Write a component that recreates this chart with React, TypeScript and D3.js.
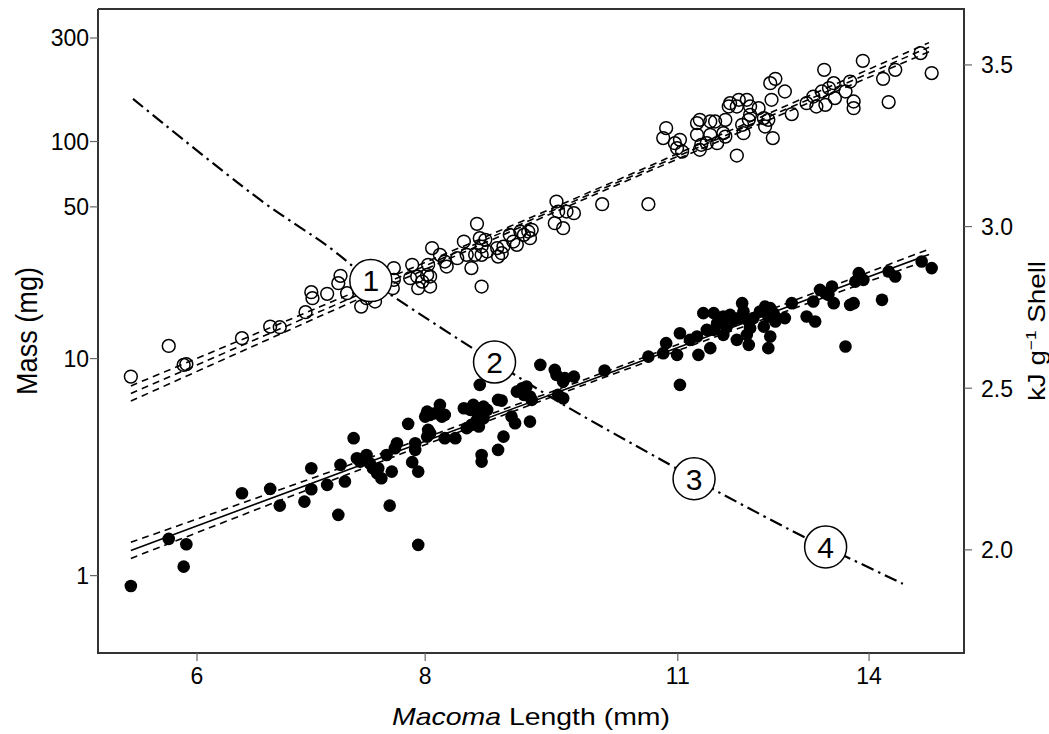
import React from "react";
import * as d3 from "d3";

// ---------- tick values ----------
const lengthTicks = [6, 8, 11, 14];
const massTicks = [1, 10, 50, 100, 300];
const energyTicks = [2.0, 2.5, 3.0, 3.5];

// ---------- open circles: [length mm, mass mg] ----------
const openPoints: [number, number][] = [
  [5.52, 8.26], [5.79, 11.44], [5.9, 9.35], [5.92, 9.42], [6.35, 12.42], [6.58, 14.04],
  [6.66, 13.95], [6.88, 16.36], [6.93, 20.23], [6.94, 18.98], [7.07, 19.87], [7.19, 24.05],
  [7.17, 22.26], [7.25, 20.01], [7.38, 17.36], [7.43, 18.98], [7.51, 18.31], [7.69, 26.11],
  [7.69, 23.05], [7.68, 21.11], [7.87, 27.03], [7.85, 23.47], [7.92, 23.87], [7.97, 22.63],
  [7.93, 21.11], [8.02, 24.3], [8.05, 21.47], [8.05, 23.87], [8.03, 27.03], [8.07, 32.28],
  [8.15, 30.06], [8.2, 27.99], [8.22, 26.55], [8.33, 29.02], [8.4, 34.61], [8.54, 41.75],
  [8.48, 26.11], [8.43, 30.06], [8.52, 30.06], [8.59, 30.06], [8.65, 31.12], [8.57, 35.88],
  [8.59, 32.82], [8.63, 35.24], [8.59, 21.47], [8.76, 32.28], [8.81, 30.6], [8.83, 32.82],
  [8.77, 29.51], [8.9, 37.15], [8.94, 34.61], [8.98, 33.42], [9.02, 38.48], [9.06, 37.15],
  [9.11, 38.48], [9.13, 35.88], [9.15, 39.18], [9.44, 52.9], [9.42, 42.07], [9.46, 47.57],
  [9.52, 39.9], [9.56, 47.57], [9.65, 46.77], [10.0, 51.47], [10.6, 51.47], [10.84, 115.3],
  [10.8, 103.7], [10.96, 98.3], [10.99, 93.2], [11.06, 89.9], [11.03, 101.8], [11.27, 121.6],
  [11.31, 125.9], [11.27, 107.4], [11.33, 96.6], [11.31, 91.6], [11.46, 123.7], [11.53, 123.7],
  [11.46, 107.4], [11.41, 98.3], [11.56, 98.3], [11.68, 125.9], [11.65, 109.3], [11.68, 105.4],
  [11.73, 145], [11.75, 150.3], [11.85, 145], [11.88, 155.7], [12.0, 155.7], [12.05, 145],
  [12.05, 132.7], [12.03, 125.9], [12.18, 142.5], [11.85, 86.2], [11.93, 119.4], [11.95, 109.3],
  [12.26, 128.2], [12.28, 117.3], [12.33, 125.9], [12.36, 185.8], [12.44, 194.5], [12.38, 155.7],
  [12.59, 170], [12.4, 103.7], [12.7, 133.8], [12.94, 150.3], [13.05, 161.2], [13.1, 145],
  [13.19, 170], [13.25, 147.6], [13.23, 214], [13.31, 176.3], [13.39, 185.8], [13.41, 158.5],
  [13.59, 170], [13.67, 189], [13.73, 152.9], [13.73, 142.5], [13.89, 235.4], [14.25, 194.5],
  [14.35, 152], [14.47, 214], [14.94, 255.5], [15.15, 206.7],
];

// ---------- filled circles: [length mm, mass mg] ----------
const filledPoints: [number, number][] = [
  [5.52, 0.896], [5.79, 1.476], [5.92, 1.395], [5.9, 1.1], [6.35, 2.397], [6.58, 2.509],
  [6.66, 2.102], [6.87, 2.193], [6.93, 2.501], [7.07, 2.618], [7.17, 1.905], [7.23, 2.712],
  [6.93, 3.126], [7.19, 3.237], [7.31, 4.298], [7.34, 3.475], [7.37, 3.352], [7.43, 3.598],
  [7.46, 3.296], [7.49, 3.126], [7.54, 3.126], [7.57, 2.811], [7.62, 3.598], [7.67, 3.015],
  [7.72, 4.075], [7.7, 3.865], [7.65, 2.102], [7.83, 5.002], [7.9, 4.075], [7.9, 3.796],
  [7.87, 3.332], [7.93, 3.015], [7.93, 1.385], [7.53, 2.964], [8.02, 5.698], [8.0, 5.404],
  [8.05, 5.503], [8.1, 5.603], [8.15, 6.116], [8.17, 5.404], [8.2, 5.503], [8.03, 4.692],
  [8.05, 4.531], [8.02, 4.37], [8.2, 4.298], [8.31, 4.298], [8.4, 5.906], [8.47, 5.801],
  [8.5, 6.116], [8.54, 5.698], [8.57, 5.906], [8.61, 6.007], [8.65, 5.801], [8.54, 5.219],
  [8.48, 4.949], [8.56, 4.861], [8.61, 5.312], [8.43, 4.78], [8.57, 7.565], [8.59, 3.598],
  [8.59, 3.352], [8.77, 6.451], [8.81, 6.403], [8.77, 3.796], [8.83, 4.37], [8.92, 5.404],
  [8.96, 5.039], [9.13, 5.125], [8.98, 7.045], [9.04, 7.304], [9.09, 7.43], [9.06, 6.803],
  [9.13, 6.682], [9.15, 6.451], [9.25, 9.354], [9.42, 8.87], [9.44, 8.412], [9.54, 8.123],
  [9.65, 8.26], [9.52, 7.834], [9.46, 6.803], [9.52, 6.569], [10.03, 8.805], [10.6, 10.21],
  [10.8, 10.59], [10.84, 11.78], [10.99, 10.4], [11.03, 13.09], [11.17, 12.2], [11.27, 12.63],
  [11.03, 7.565], [11.29, 10.4], [11.36, 16.19], [11.51, 16.19], [11.56, 14.56], [11.65, 15.62],
  [11.7, 14.04], [11.75, 15.9], [11.8, 15.08], [11.88, 15.36], [11.93, 18.0], [11.95, 16.47],
  [12.03, 14.81], [12.05, 13.81], [12.1, 15.36], [11.46, 11.17], [11.41, 13.56],
  [11.51, 13.56], [11.65, 12.86], [11.85, 12.2], [12.03, 11.56], [12.0, 12.86], [12.2, 16.47],
  [12.28, 17.36], [12.36, 17.07], [12.41, 16.19], [12.46, 15.36], [12.33, 15.62], [12.26, 14.04],
  [12.36, 12.63], [12.33, 11.17], [12.44, 14.81], [12.59, 15.36], [12.7, 18.0], [12.94, 15.62],
  [13.08, 14.81], [13.05, 18.31], [13.16, 20.73], [13.25, 20.01], [13.36, 21.47], [13.3, 19.66],
  [13.39, 18.0], [13.59, 11.36], [13.67, 17.68], [13.73, 18.0], [13.76, 22.63], [13.82, 24.75],
  [13.9, 23.05], [14.23, 18.65], [14.35, 25.17], [14.47, 23.87], [14.96, 27.99], [15.15, 26.11],
];

// ---------- regression fits: [length, lower CI, fit, upper CI] ----------
const openFit: [number, number, number, number][] = [
  [5.52, 6.37, 6.9, 7.48],
  [7, 15.61, 16.42, 17.27],
  [9.5, 48.8, 50.1, 51.4],
  [12, 113.8, 117.6, 121.5],
  [15.1, 259, 272, 285.6],
];
const filledFit: [number, number, number, number][] = [
  [5.52, 1.2, 1.307, 1.424],
  [7, 2.608, 2.744, 2.887],
  [9.5, 6.92, 7.114, 7.313],
  [12, 14.21, 14.75, 15.31],
  [15.1, 28.57, 30.2, 31.92],
];

// ---------- energy density curve: [length mm, kJ/g shell] ----------
const energyCurve: [number, number][] = [
  [5.535, 3.395], [6.496, 3.083], [7.096, 2.934], [7.472, 2.832], [8.221, 2.675],
  [8.731, 2.581], [9.563, 2.443], [10.894, 2.263], [11.228, 2.22], [12.836, 2.046],
  [13.254, 2.009], [14.61, 1.895],
];
const curveLabels = ["1", "2", "3", "4"];
const curveLabelLength = [7.47, 8.731, 11.228, 13.254];
const curveLabelEnergy = [2.833, 2.581, 2.22, 2.009];

const W = 1049;
const H = 734;
const left = 98, right = 964, top = 9, bottom = 653;
const FONT = "'Liberation Sans', Arial, Helvetica, sans-serif";

export default function App() {
  const x = d3.scaleLog().domain([5.296, 15.78]).range([left, right]);
  const yM = d3.scaleLog().domain([0.44, 408]).range([bottom, top]);
  const yE = d3.scaleLinear().domain([1.681, 3.673]).range([bottom, top]);

  const band = (arr: [number, number, number, number][], k: number) =>
    d3.line<[number, number, number, number]>()
      .x((d) => x(d[0]))
      .y((d) => yM(d[k]))
      .curve(d3.curveCatmullRom)(arr) as string;

  const energyPath = d3.line<[number, number]>()
    .x((d) => x(d[0]))
    .y((d) => yE(d[1]))
    .curve(d3.curveCatmullRom.alpha(0.5))(energyCurve) as string;

  const axisColor = "#333";
  const tickColor = "#666";

  return (
    <svg width={W} height={H} style={{ position: "absolute", left: 0, top: 0, background: "#fff" }}
      fontFamily={FONT}>
      <rect x={0} y={0} width={W} height={H} fill="#fff" />

      {/* regression: open (all dashed) */}
      {[1, 2, 3].map((k) => (
        <path key={"o" + k} d={band(openFit, k)} fill="none" stroke="#000" strokeWidth={1.6}
          strokeDasharray="7,5" />
      ))}
      {/* regression: filled (solid fit, dashed CI) */}
      {[1, 3].map((k) => (
        <path key={"f" + k} d={band(filledFit, k)} fill="none" stroke="#000" strokeWidth={1.6}
          strokeDasharray="7,5" />
      ))}
      <path d={band(filledFit, 2)} fill="none" stroke="#000" strokeWidth={1.6} />

      {/* points */}
      {openPoints.map((d, i) => (
        <circle key={"op" + i} cx={x(d[0])} cy={yM(d[1])} r={6.4} fill="none" stroke="#000"
          strokeWidth={1.5} />
      ))}
      {filledPoints.map((d, i) => (
        <circle key={"fp" + i} cx={x(d[0])} cy={yM(d[1])} r={6.3} fill="#000" />
      ))}

      {/* energy curve */}
      <path d={energyPath} fill="none" stroke="#000" strokeWidth={2.2}
        strokeDasharray="13,5,2.5,5" />

      {curveLabels.map((t, i) => {
        const cx = x(curveLabelLength[i]);
        const cy = yE(curveLabelEnergy[i]);
        return (
          <g key={"lab" + t}>
            <circle cx={cx} cy={cy} r={21} fill="#fff" stroke="#000" strokeWidth={1.5} />
            <text x={cx} y={cy} dy="0.36em" textAnchor="middle" fontSize={30} fill="#000">{t}</text>
          </g>
        );
      })}

      {/* frame */}
      <polyline points={`${left},${top} ${right},${top} ${right},${bottom} ${left},${bottom} ${left},${top}`}
        fill="none" stroke={axisColor} strokeWidth={2} />

      {/* left axis */}
      {massTicks.map((v) => (
        <g key={"ym" + v}>
          <line x1={left - 8} x2={left} y1={yM(v)} y2={yM(v)} stroke={tickColor} strokeWidth={1.2} />
          <text x={left - 9} y={yM(v)} dy="0.36em" textAnchor="end" fontSize={23} fill="#000">{v}</text>
        </g>
      ))}
      {/* right axis */}
      {energyTicks.map((v) => (
        <g key={"ye" + v}>
          <line x1={right} x2={right + 8} y1={yE(v)} y2={yE(v)} stroke={tickColor} strokeWidth={1.2} />
          <text x={right + 17} y={yE(v)} dy="0.36em" textAnchor="start" fontSize={23} fill="#000">{v.toFixed(1)}</text>
        </g>
      ))}
      {/* bottom axis */}
      {lengthTicks.map((v) => (
        <g key={"x" + v}>
          <line x1={x(v)} x2={x(v)} y1={bottom} y2={bottom + 8} stroke={tickColor} strokeWidth={1.2} />
          <text x={x(v)} y={684} textAnchor="middle" fontSize={23} fill="#000">{v}</text>
        </g>
      ))}

      {/* axis titles */}
      <text x={(left + right) / 2} y={725} textAnchor="middle" fontSize={24} fill="#000"
        textLength={278} lengthAdjust="spacingAndGlyphs">
        <tspan fontStyle="italic">Macoma</tspan> Length (mm)
      </text>
      <text transform={`translate(37,${(top + bottom) / 2}) rotate(-90)`} textAnchor="middle"
        fontSize={30} fill="#000" textLength={128} lengthAdjust="spacingAndGlyphs">
        Mass (mg)
      </text>
      <text transform={`translate(1045,${(top + bottom) / 2}) rotate(-90)`} textAnchor="middle"
        fontSize={24} fill="#000" textLength={140} lengthAdjust="spacingAndGlyphs">
        kJ g<tspan fontSize={15} dy={-9}>−1</tspan><tspan dy={9}> Shell</tspan>
      </text>
    </svg>
  );
}
